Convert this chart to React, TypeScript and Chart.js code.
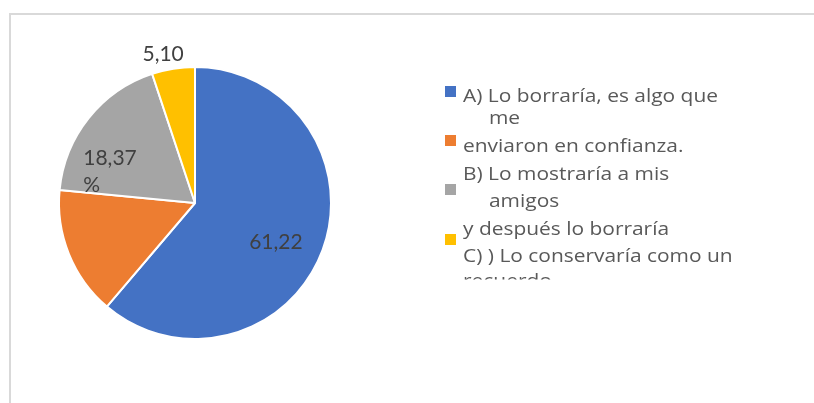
import React, { useEffect, useRef } from "react";
import { Chart, registerables } from "chart.js";

Chart.register(...registerables);

// ---- data ----
const categories = [
  "A) Lo borraría, es algo que me enviaron en confianza.",
  "Otra respuesta",
  "B) Lo mostraría a mis amigos y después lo borraría",
  "C) ) Lo conservaría como un recuerdo",
];
const values = [61.22, 15.31, 18.37, 5.1];
const sliceLabels: string[][] = [["61,22"], [], ["18,37", "%"], ["5,10"]];
const legendLines = [
  "A) Lo borraría, es algo que",
  "me",
  "enviaron en confianza.",
  "B) Lo mostraría a mis",
  "amigos",
  "y después lo borraría",
  "C) ) Lo conservaría como un",
  "recuerdo",
];

// ---- styles / layout ----
const colors = ["#4472C4", "#ED7D31", "#A5A5A5", "#FFC000"];
const FONT = "Lato, 'Open Sans', sans-serif";
const LEGEND_FONT = "'Open Sans', Lato, sans-serif";
const labelPlacement = [
  { f: 0.66, da: 5.5 },
  { f: 0, da: 0 },
  { f: 0.665, da: -18.6 },
  { f: 1.12, da: -2.9 },
];
const legendLayout = {
  swatchX: 445,
  swatchSize: 11,
  swatchY: [86, 135, 184, 234],
  textX: 463,
  indentX: 489,
  indent: [false, true, false, false, true, false, false, false],
  baselines: [101.7, 124, 151.7, 180, 206.7, 235, 261.7, 286.5],
  clipBottom: 279.5,
  fontSize: 19,
  firstLineWidth: 255,
};

const decorPlugin = {
  id: "decor",
  beforeDraw(chart: any) {
    const ctx = chart.ctx;
    ctx.save();
    ctx.fillStyle = "#d9d9d9";
    ctx.fillRect(9, 13, chart.width - 9, 2);
    ctx.fillRect(9, 13, 2, chart.height - 13);
    ctx.restore();
  },
  afterDraw(chart: any) {
    const ctx = chart.ctx;
    // slice labels
    const arcs = chart.getDatasetMeta(0).data;
    ctx.save();
    ctx.font = `21px ${FONT}`;
    ctx.fillStyle = "#404040";
    ctx.textBaseline = "middle";
    ctx.textAlign = "left";
    arcs.forEach((arc: any, i: number) => {
      const lines = sliceLabels[i];
      if (!lines || !lines.length) return;
      const { x, y, startAngle, endAngle, outerRadius } = arc.getProps(
        ["x", "y", "startAngle", "endAngle", "outerRadius"],
        true
      );
      const p = labelPlacement[i];
      const a = (startAngle + endAngle) / 2 + (p.da * Math.PI) / 180;
      const cx = x + Math.cos(a) * outerRadius * p.f;
      const cy = y + Math.sin(a) * outerRadius * p.f;
      const w = Math.max(...lines.map((l) => ctx.measureText(l).width));
      const lh = 27;
      lines.forEach((l, j) => {
        ctx.fillText(l, cx - w / 2, cy + (j - (lines.length - 1) / 2) * lh);
      });
    });
    ctx.restore();

    // legend
    const L = legendLayout;
    ctx.save();
    ctx.beginPath();
    ctx.rect(0, 0, chart.width, L.clipBottom);
    ctx.clip();
    colors.forEach((c, i) => {
      ctx.fillStyle = c;
      ctx.fillRect(L.swatchX, L.swatchY[i], L.swatchSize, L.swatchSize);
    });
    ctx.font = `${L.fontSize}px ${LEGEND_FONT}`;
    ctx.fillStyle = "#595959";
    ctx.textBaseline = "alphabetic";
    ctx.textAlign = "left";
    const sx = L.firstLineWidth / ctx.measureText(legendLines[0]).width;
    legendLines.forEach((t, i) => {
      const x0 = L.indent[i] ? L.indentX : L.textX;
      ctx.save();
      ctx.translate(x0, L.baselines[i]);
      ctx.scale(sx, 1);
      ctx.fillText(t, 0, 0);
      ctx.restore();
    });
    ctx.restore();
  },
};

export default function App() {
  const ref = useRef<HTMLCanvasElement>(null);
  useEffect(() => {
    if (!ref.current) return;
    const chart = new Chart(ref.current, {
      type: "pie",
      data: {
        labels: categories,
        datasets: [
          {
            data: values,
            backgroundColor: colors,
            borderColor: "#ffffff",
            borderWidth: 2,
          },
        ],
      },
      options: {
        responsive: false,
        animation: false,
        devicePixelRatio: 1,
        radius: 136,
        layout: { padding: { left: 59, right: 483, top: 67, bottom: 64 } },
        plugins: {
          legend: { display: false },
          tooltip: { enabled: false },
          title: { display: false },
        },
      } as any,
      plugins: [decorPlugin],
    });
    return () => chart.destroy();
  }, []);
  return (
    <div style={{ position: "absolute", left: 0, top: 0, width: 814, height: 403, background: "#fff" }}>
      <canvas ref={ref} width={814} height={403} style={{ display: "block" }} />
    </div>
  );
}
